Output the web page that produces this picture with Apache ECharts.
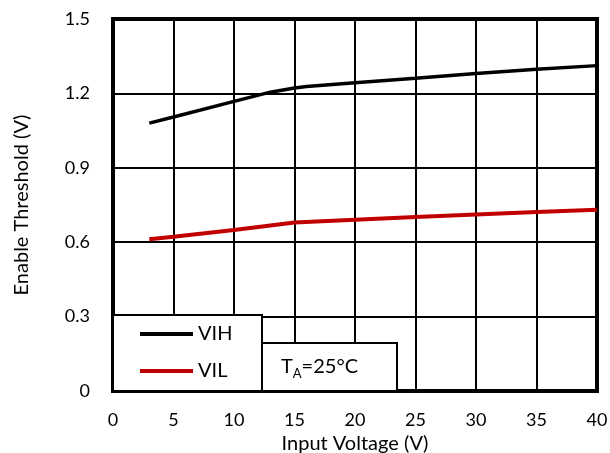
<!DOCTYPE html>
<html><head><meta charset="utf-8">
<script src="https://cdn.jsdelivr.net/npm/echarts@6/dist/echarts.min.js"></script>
<style>html,body{margin:0;padding:0;background:#fff}#c{width:610px;height:453px}</style>
</head><body><div id="c"></div>
<script>
const xTicks = [0,5,10,15,20,25,30,35,40];
const yTicks = [0,0.3,0.6,0.9,1.2,1.5];
const vihX = [3,5,10,13,15,16,20,25,30,35,40];
const vihY = [1.08,1.105,1.168,1.205,1.222,1.228,1.243,1.261,1.28,1.297,1.312];
const vilX = [3,5,10,15,20,25,30,35,40];
const vilY = [0.612,0.622,0.649,0.679,0.691,0.702,0.712,0.722,0.731];
const seriesNames = ['VIH','VIL'];
const F = 'Lato, "Open Sans", sans-serif';
const chart = echarts.init(document.getElementById('c'));
chart.setOption({
  animation:false,
  grid:{left:113,right:13,top:19,bottom:62,show:true,borderColor:'#000',borderWidth:4,containLabel:false,outerBoundsMode:'none'},
  xAxis:{type:'value',min:0,max:40,interval:5,
    name:'Input Voltage (V)',nameLocation:'middle',nameGap:37,
    nameTextStyle:{fontFamily:F,fontSize:20,color:'#000'},
    axisLine:{show:false},axisTick:{show:false},
    axisLabel:{fontFamily:F,fontSize:18,color:'#000',margin:20,formatter:v=>String(v)},
    splitLine:{show:true,lineStyle:{color:'#000',width:2}}},
  yAxis:{type:'value',min:0,max:1.5,interval:0.3,
    name:'Enable Threshold (V)',nameLocation:'middle',nameGap:81,
    nameTextStyle:{fontFamily:F,fontSize:20,color:'#000'},
    axisLine:{show:false},axisTick:{show:false},
    axisLabel:{fontFamily:F,fontSize:18,color:'#000',margin:23,formatter:v=>v===0?'0':v.toFixed(1)},
    splitLine:{show:true,lineStyle:{color:'#000',width:2}}},
  legend:{left:113,top:315,orient:'vertical',z:20,
    padding:[9,30,11,27],itemWidth:53,itemHeight:4,itemGap:17,itemTextGap:5,
    textStyle:{fontFamily:F,fontSize:20,lineHeight:20,color:'#000'},
    data:seriesNames.map(n=>({name:n,icon:'rect'}))},
  graphic:[
    {type:'rect',z:15,shape:{x:113,y:315,width:149,height:76},style:{fill:'#fff',stroke:'#000',lineWidth:2}},
    {type:'rect',z:15,shape:{x:262,y:343,width:135,height:48},style:{fill:'#fff',stroke:'#000',lineWidth:2}},
    {type:'text',z:16,left:281,top:357,style:{text:'{a|T}{s|A}{a|=25°C}',
      rich:{a:{fontFamily:F,fontSize:20,color:'#000'},s:{fontFamily:F,fontSize:13,color:'#000',verticalAlign:'bottom',padding:[13,0,0,0]}}}}
  ],
  series:[
    {name:'VIH',type:'line',showSymbol:false,symbol:'none',data:vihX.map((x,i)=>[x,vihY[i]]),
     lineStyle:{color:'#000',width:3.5},itemStyle:{color:'#000'},z:5},
    {name:'VIL',type:'line',showSymbol:false,symbol:'none',data:vilX.map((x,i)=>[x,vilY[i]]),
     lineStyle:{color:'#c00000',width:4},itemStyle:{color:'#c00000'},z:5}
  ]
});
</script></body></html>
